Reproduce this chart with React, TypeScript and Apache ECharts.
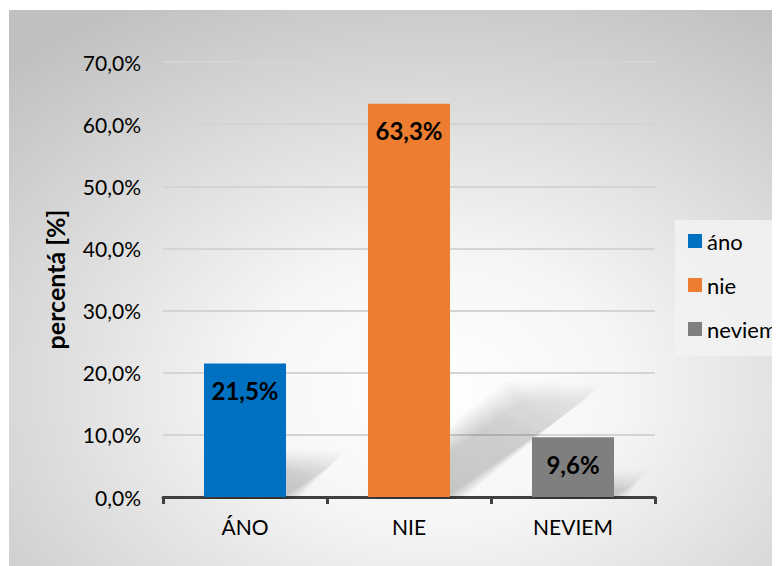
import React, { useEffect, useRef } from "react";
import * as echarts from "echarts";

const categories = ["ÁNO", "NIE", "NEVIEM"];
const legendNames = ["áno", "nie", "neviem"];
const values = [21.5, 63.3, 9.6];
const colors = ["#0070C0", "#ED7D31", "#7F7F7F"];
const yTicks = { min: 0, max: 70, interval: 10 };

const fmt = (v: number) => v.toFixed(1).replace(".", ",") + "%";
const FONT = "Lato";

export default function App() {
  const ref = useRef<HTMLDivElement>(null);
  useEffect(() => {
    const chart = echarts.init(ref.current!, undefined, { renderer: "svg" });
    const barSeries = values.map((v, i) => ({
      type: "bar",
      name: legendNames[i],
      stack: "all",
      barWidth: "50%",
      z: 3,
      itemStyle: { color: colors[i] },
      data: values.map((_, j) => (j === i ? v : "-")),
      label: {
        show: true,
        position: "insideTop",
        distance: 15,
        formatter: (p: any) => fmt(p.value),
        fontFamily: FONT,
        fontWeight: "bold",
        fontSize: 24,
        color: "#000",
      },
    }));
    const shadowSeries = {
      type: "custom",
      name: "shadow",
      z: 1,
      silent: true,
      data: values.map((v, i) => [i, v]),
      renderItem: (params: any, api: any) => {
        const idx = api.value(0);
        const top = api.coord([idx, api.value(1)]);
        const base = api.coord([idx, 0]);
        const w = api.size([1, 0])[0] * 0.5;
        const h = base[1] - top[1];
        const dx = h * 0.36;
        const dy = h * 0.26;
        const x1 = base[0] - w / 2;
        const x2 = base[0] + w / 2;
        const y0 = base[1];
        const layers: any[] = [];
        const N = 7;
        for (let k = 0; k < N; k++) {
          const e = (k - 2) * 3;
          layers.push({
            type: "polygon",
            shape: {
              points: [
                [x1 + 6 - e, y0 + 2],
                [x2 + e, y0 + 2],
                [x2 + dx + e, y0 - dy - e],
                [x1 + dx + 6 - e, y0 - dy - e],
              ],
            },
            style: {
              fill: new echarts.graphic.LinearGradient(0, 1, 1, 0, [
                { offset: 0, color: "rgba(0,0,0,0.035)" },
                { offset: 0.6, color: "rgba(0,0,0,0.028)" },
                { offset: 1, color: "rgba(0,0,0,0.01)" },
              ]),
            },
          });
        }
        return { type: "group", children: layers };
      },
    };
    chart.setOption({
      animation: false,
      textStyle: { fontFamily: FONT },
      graphic: [
        {
          type: "rect",
          z: -10,
          silent: true,
          shape: { x: 1, y: 2, width: 771, height: 556 },
          style: {
            fill: new echarts.graphic.RadialGradient(0.55, 0.68, 0.8, [
              { offset: 0, color: "#ffffff" },
              { offset: 0.3, color: "#f6f6f6" },
              { offset: 1, color: "#c0c0c0" },
            ]),
          },
        },
      ],
      grid: { left: 155, right: 125, top: 54, bottom: 69, containLabel: false },
      legend: {
        orient: "vertical",
        left: 667,
        top: 212,
        backgroundColor: "rgba(242,242,242,0.85)",
        padding: [10, 20, 16, 13],
        itemWidth: 14,
        itemHeight: 14,
        itemGap: 22,
        icon: "rect",
        data: legendNames,
        textStyle: { fontFamily: FONT, fontSize: 22, color: "#000" },
      },
      xAxis: {
        type: "category",
        data: categories,
        axisLine: { show: true, lineStyle: { color: "#404040", width: 3 } },
        axisTick: { show: true, length: 7, lineStyle: { color: "#404040", width: 3 } },
        axisLabel: { fontFamily: FONT, fontSize: 21, color: "#000", margin: 19 },
      },
      yAxis: {
        type: "value",
        min: yTicks.min,
        max: yTicks.max,
        interval: yTicks.interval,
        name: "percentá [%]",
        nameLocation: "middle",
        nameGap: 96,
        nameTextStyle: { fontFamily: FONT, fontSize: 25, fontWeight: "bold", color: "#000" },
        axisLine: { show: false },
        axisTick: { show: false },
        axisLabel: {
          fontFamily: FONT,
          fontSize: 21,
          color: "#000",
          margin: 22,
          formatter: (v: number) => fmt(v),
        },
        splitLine: { lineStyle: { color: "#d4d4d4", width: 2 } },
      },
      series: [shadowSeries, ...barSeries],
    });
    return () => chart.dispose();
  }, []);
  return <div ref={ref} style={{ width: 772, height: 558 }} />;
}
